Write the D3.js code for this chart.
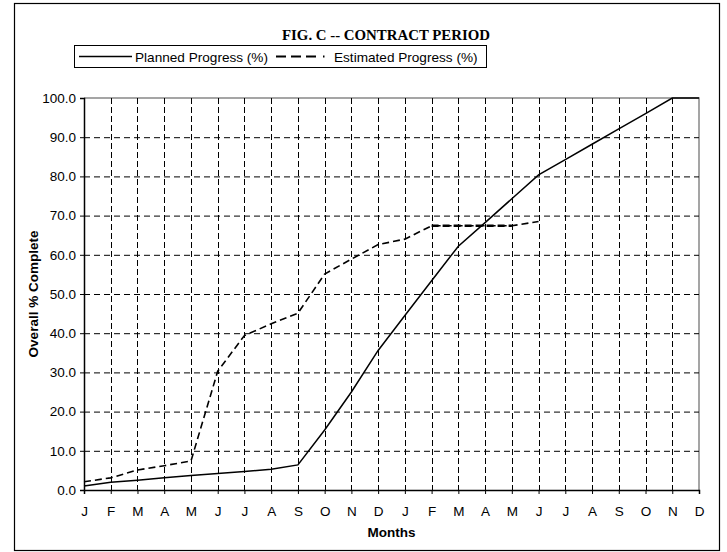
<!DOCTYPE html>
<html><head><meta charset="utf-8">
<script src="https://cdn.jsdelivr.net/npm/d3@7"></script>
<style>
html,body{margin:0;padding:0;background:#fff;}
svg{display:block;}
</style></head>
<body>
<svg id="chart" width="727" height="552"></svg>
<script>
const title = "FIG. C -- CONTRACT PERIOD";
const months = ["J","F","M","A","M","J","J","A","S","O","N","D","J","F","M","A","M","J","J","A","S","O","N","D"];
const planned = [1.0, 2.0, 2.5, 3.1, 3.7, 4.2, 4.7, 5.3, 6.4, 15.3, 25.0, 35.6, 44.5, 53.4, 62.2, 68.2, 74.3, 80.4, 84.3, 88.2, 92.1, 96.0, 100.0, 100.0];
const estimated = [2.1, 3.1, 5.1, 6.2, 7.4, 30.3, 39.4, 42.4, 45.1, 55.1, 58.9, 62.6, 64.0, 67.4, 67.4, 67.4, 67.4, 68.5];
const estimatedFlatRange = [13, 16];
const yTicks = [0,10,20,30,40,50,60,70,80,90,100];
const seriesNames = ["Planned Progress (%)", "Estimated Progress (%)"];

const svg = d3.select("#chart");
const x = d3.scalePoint().domain(d3.range(months.length)).range([84, 699]);
const y = d3.scaleLinear().domain([0, 100]).range([490, 98]);

// outer frame
svg.append("rect").attr("x", 14.5).attr("y", 3.5).attr("width", 705).attr("height", 547)
  .attr("fill", "#fff").attr("stroke", "#000").attr("stroke-width", 1.2);

// plot frame (top/right)
svg.append("path").attr("d", `M84,${y(100)}H699V${y(0)}`).attr("fill","none").attr("stroke","#888").attr("stroke-width",1.5);

// gridlines
const grid = svg.append("g");
grid.selectAll("line.h").data(yTicks.filter(d => d > 0 && d < 100)).join("line")
  .attr("x1", 84).attr("x2", 699).attr("y1", d => y(d)+0.5).attr("y2", d => y(d)+0.5)
  .attr("stroke", "#000").attr("stroke-width", 1).attr("stroke-dasharray", "6,4");
grid.selectAll("line.v").data(d3.range(1, months.length - 1)).join("line")
  .attr("x1", d => Math.round(x(d))+0.5).attr("x2", d => Math.round(x(d))+0.5).attr("y1", y(100)).attr("y2", y(0))
  .attr("stroke", "#000").attr("stroke-width", 1).attr("stroke-dasharray", "6,3");

// axes
const xAxis = d3.axisBottom(x).tickSize(4).tickPadding(12).tickFormat(i => months[i]);
const yAxis = d3.axisLeft(y).tickValues(yTicks).tickSize(4).tickPadding(4).tickFormat(d3.format(".1f"));
const gx = svg.append("g").attr("transform", `translate(0,${y(0)})`).call(xAxis);
const gy = svg.append("g").attr("transform", `translate(84,0)`).call(yAxis);
[gx, gy].forEach(g => {
  g.select(".domain").attr("stroke", "#000").attr("stroke-width", 1.5);
  g.selectAll(".tick line").attr("stroke", "#000");
  g.selectAll("text").attr("font-family", "Liberation Sans, Arial, sans-serif").attr("font-size", 13.5).attr("fill", "#000");
});

// lines
const line = d3.line().x((d, i) => x(i)).y(d => y(d));
svg.append("path").datum(planned).attr("d", line).attr("fill", "none")
  .attr("stroke", "#000").attr("stroke-width", 1.5);
svg.append("path").datum(estimated).attr("d", line).attr("fill", "none")
  .attr("stroke", "#000").attr("stroke-width", 1.6).attr("stroke-dasharray", "7,4");
const flatLine = d3.line().x(d => x(d)).y(d => y(estimated[d]));
svg.append("path").datum(d3.range(estimatedFlatRange[0], estimatedFlatRange[1] + 1)).attr("d", flatLine)
  .attr("fill", "none").attr("stroke", "#000").attr("stroke-width", 2.6).attr("stroke-dasharray", "7,4");

// axis titles
svg.append("text").attr("x", (84+699)/2).attr("y", 537).attr("text-anchor", "middle")
  .attr("font-family", "Liberation Sans, Arial, sans-serif").attr("font-weight", "bold").attr("font-size", 13.5)
  .text("Months");
svg.append("text").attr("transform", `translate(38,${(98+490)/2}) rotate(-90)`).attr("text-anchor", "middle")
  .attr("font-family", "Liberation Sans, Arial, sans-serif").attr("font-weight", "bold").attr("font-size", 13.5)
  .text("Overall % Complete");

// title
svg.append("text").attr("x", 386).attr("y", 40).attr("text-anchor", "middle")
  .attr("font-family", "Liberation Serif, Times New Roman, serif").attr("font-weight", "bold").attr("font-size", 15.5)
  .attr("textLength", 208).attr("lengthAdjust", "spacingAndGlyphs")
  .text(title);

// legend
const lg = svg.append("g");
lg.append("rect").attr("x", 74.5).attr("y", 45.5).attr("width", 412).attr("height", 22)
  .attr("fill", "#fff").attr("stroke", "#000").attr("stroke-width", 1);
lg.append("line").attr("x1", 79).attr("x2", 132).attr("y1", 56.5).attr("y2", 56.5).attr("stroke", "#000").attr("stroke-width", 1.5);
lg.append("text").attr("x", 135).attr("y", 61.5).attr("font-family", "Liberation Sans, Arial, sans-serif").attr("font-size", 13.6).text(seriesNames[0]);
lg.append("line").attr("x1", 276).attr("x2", 332).attr("y1", 56.5).attr("y2", 56.5).attr("stroke", "#000").attr("stroke-width", 2).attr("stroke-dasharray", "10,5,10,5,10,7,1.5,100");
lg.append("text").attr("x", 334).attr("y", 61.5).attr("font-family", "Liberation Sans, Arial, sans-serif").attr("font-size", 13.6).text(seriesNames[1]);
</script>
</body></html>
